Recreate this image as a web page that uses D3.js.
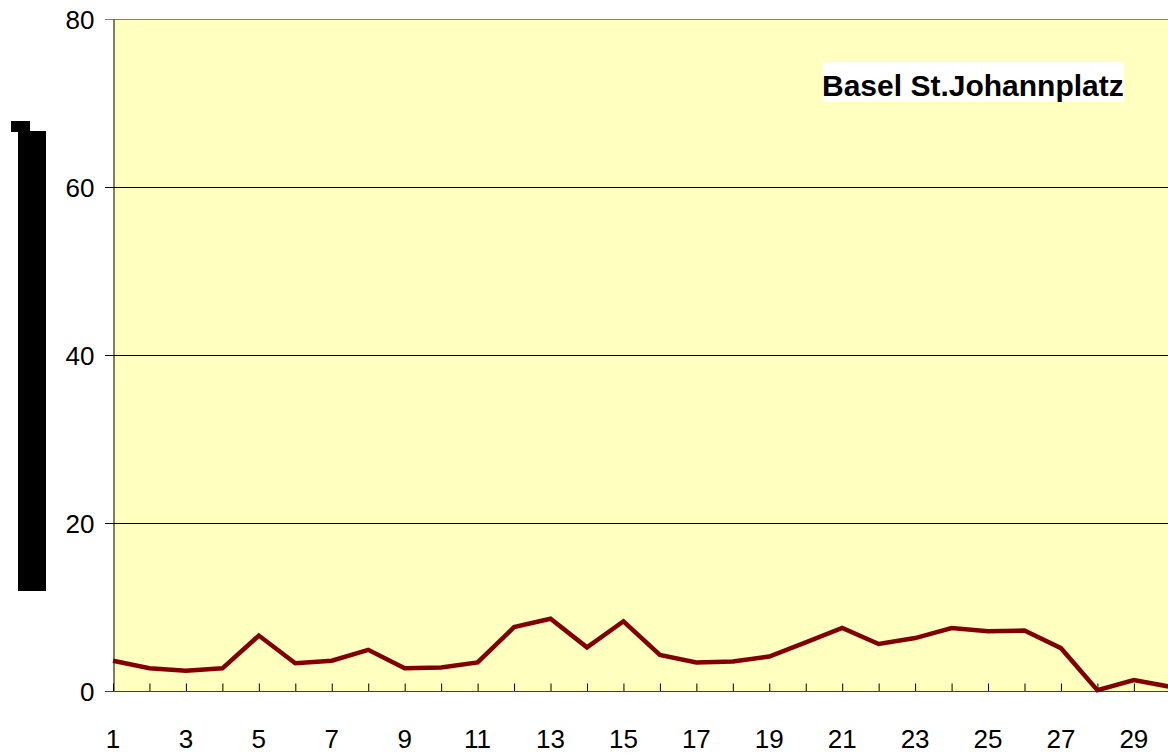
<!DOCTYPE html>
<html><head><meta charset="utf-8">
<script src="https://cdn.jsdelivr.net/npm/d3@7"></script>
<style>html,body{margin:0;padding:0;background:#fff;overflow:hidden}svg{display:block}</style>
</head><body>
<svg id="c" width="1168" height="754"></svg>
<script>
const days = d3.range(1, 31);
const values = [3.6, 2.7, 2.4, 2.7, 6.6, 3.3, 3.6, 4.9, 2.7, 2.8, 3.4, 7.6, 8.6, 5.2, 8.3, 4.3, 3.4, 3.5, 4.1, 5.8, 7.5, 5.6, 6.3, 7.5, 7.1, 7.2, 5.1, 0.1, 1.3, 0.5];
const yTicks = [0, 20, 40, 60, 80];
const xTickLabels = d3.range(1, 30, 2);
const title = "Basel St.Johannplatz";

(function () {
const svg = d3.select("#c");
const pLeft = 113, pTop = 19, pBottom = 691, step = 36.46;
const font = "Liberation Sans, Arial, sans-serif";
const x = d3.scaleLinear().domain([1, 31]).range([pLeft, pLeft + 30 * step]);
const y = d3.scaleLinear().domain([0, 80]).range([pBottom, pTop]);
const pRight = x(31);

svg.append("rect").attr("x", pLeft).attr("y", pTop).attr("width", pRight - pLeft).attr("height", pBottom - pTop).attr("fill", "#FFFFC0");

// gridlines
svg.append("g").selectAll("line").data(yTicks).join("line")
  .attr("x1", pLeft - 8).attr("x2", pRight)
  .attr("y1", d => Math.round(y(d)) + 0.5).attr("y2", d => Math.round(y(d)) + 0.5)
  .attr("stroke", d => d === 80 ? "#808080" : "#000").attr("stroke-width", 1);

// y axis
const yAxis = d3.axisLeft(y).tickValues(yTicks).tickSize(0).tickPadding(19);
const gy = svg.append("g").attr("transform", `translate(${pLeft + 0.5},0)`).call(yAxis);
gy.select(".domain").attr("stroke", "#000");
gy.selectAll("text").attr("font-family", font).attr("font-size", 26).attr("fill", "#000").attr("dy", "0.36em");

// x axis ticks inside
const xAxis = d3.axisTop(x).tickValues(days.concat([31])).tickSize(8).tickFormat("");
const gx = svg.append("g").attr("transform", `translate(0,${pBottom + 0.5})`).call(xAxis);
gx.select(".domain").remove();
gx.selectAll("line").attr("stroke", "#000");
svg.append("line").attr("x1", pLeft - 8).attr("x2", pRight).attr("y1", pBottom + 0.5).attr("y2", pBottom + 0.5).attr("stroke", "#404040");

svg.append("g").selectAll("text").data(xTickLabels).join("text")
  .attr("x", d => x(d)).attr("y", 748)
  .attr("text-anchor", "middle")
  .attr("font-family", font).attr("font-size", 26).attr("fill", "#000")
  .text(d => d);

// line
const line = d3.line().x((d, i) => x(days[i])).y(d => y(d));
svg.append("path").datum(values).attr("d", line).attr("fill", "none").attr("stroke", "#800000").attr("stroke-width", 4.5).attr("stroke-linejoin", "miter");

// title box
svg.append("rect").attr("x", 823).attr("y", 62).attr("width", 301).attr("height", 40).attr("fill", "#fff");
svg.append("text").attr("x", 822).attr("y", 96).attr("font-family", font).attr("font-weight", "bold").attr("font-size", 30).attr("fill", "#000").text(title);

// black y-axis title artifact
svg.append("rect").attr("x", 11).attr("y", 121).attr("width", 19).attr("height", 11).attr("fill", "#000");
svg.append("rect").attr("x", 18).attr("y", 131).attr("width", 28).attr("height", 460).attr("fill", "#000");
})();
</script>
</body></html>
